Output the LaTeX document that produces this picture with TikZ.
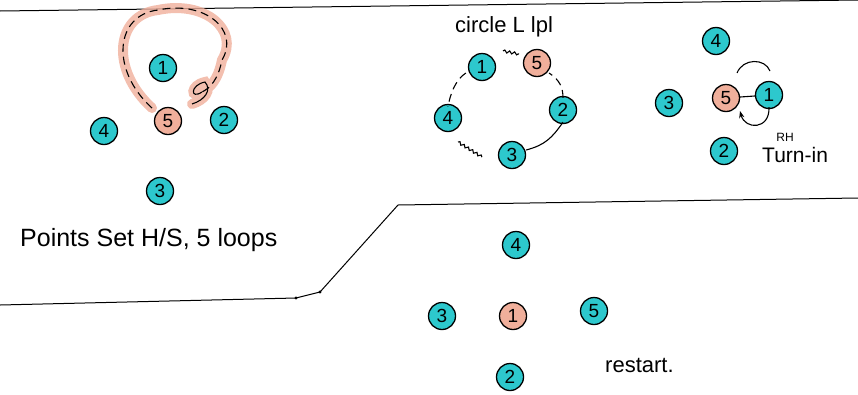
\documentclass[tikz,border=0pt]{standalone}
\usepackage{fontspec}
\setmainfont{Liberation Sans}
\usetikzlibrary{arrows.meta,decorations.pathmorphing}
\definecolor{tealc}{RGB}{45,200,205}
\definecolor{salm}{RGB}{240,175,155}
\begin{document}
\begin{tikzpicture}[x=1pt,y=-1pt,
  cn/.style={circle,draw=black,line width=1.3pt,fill=tealc,minimum size=27pt,inner sep=0pt,font=\fontsize{19}{19}\selectfont},
  sn/.style={cn,fill=salm},
  pen/.style={line width=1.1pt,black},
  dpen/.style={pen,dash pattern=on 8pt off 5pt},
  wavy/.style={pen,decorate,decoration={snake,amplitude=1.3pt,segment length=5pt}},
  hand/.style={inner sep=0pt,anchor=west}]
\useasboundingbox (0,0) rectangle (858,394);
% divider lines
\coordinate (tl) at (0,11); \coordinate (tr) at (858,0);
\draw[line width=1pt] (tl) -- (tr);
\coordinate (b0) at (0,305); \coordinate (b1) at (296,298); \coordinate (b2) at (320,292);
\coordinate (b3) at (398,205); \coordinate (b4) at (858,198);
\draw[line width=1pt] (b0) -- (b1) -- (b2) -- (b3) -- (b4);
\fill (b1) circle (1.6pt); \fill (b2) circle (1.6pt);

% group 1
\coordinate (la) at (152,108); \coordinate (lb) at (158,10); \coordinate (lc) at (222,60);
\coordinate (ld) at (202,92); \coordinate (le) at (192,104);
\draw[salm,line width=10pt,line cap=round,opacity=.8] (la) .. controls (110,70) and (115,15) .. (lb) .. controls (205,0) and (240,30) .. (lc) .. controls (218,80) and (210,88) .. (ld) .. controls (190,100) and (190,85) .. (205,82) .. controls (212,90) and (205,100) .. (le);
\draw[dpen] (la) .. controls (110,70) and (115,15) .. (lb) .. controls (205,0) and (240,30) .. (lc) .. controls (218,80) and (210,88) .. (ld);
\draw[pen] (ld) .. controls (190,100) and (190,85) .. (205,82) .. controls (212,90) and (205,100) .. (le);
\node[cn] (g1a) at (163,68) {1};
\node[sn] (g1e) at (168,121) {5};
\node[cn] (g1b) at (224,120) {2};
\node[cn] (g1d) at (104,131) {4};
\node[cn] (g1c) at (160,191) {3};
\node[hand,font=\fontsize{25}{25}\selectfont] (t1) at (20,240) {Points Set H/S, 5 loops};

% group 2
\node[hand,font=\fontsize{22}{22}\selectfont] (t2) at (455,27) {circle L lpl};
\node[cn] (g2a) at (482,67) {1};
\node[sn] (g2e) at (537,63) {5};
\node[cn] (g2b) at (563,110) {2};
\node[cn] (g2c) at (512,155) {3};
\node[cn] (g2d) at (448,118) {4};
\coordinate (w1) at (458,142); \coordinate (w2) at (482,157);
\coordinate (w3) at (503,51); \coordinate (w4) at (519,54);
\draw[dpen] (g2a.west) ++(-2,6) .. controls (455,80) and (450,95) .. ([yshift=-3pt]g2d.north);
\draw[wavy] (w1) -- (w2);
\draw[pen] (g2c.east) ++(0,-5) .. controls (545,145) and (552,138) .. ([yshift=2pt]g2b.south);
\draw[dpen] ([yshift=-2pt]g2b.north) .. controls (563,88) and (560,80) .. ([xshift=2pt]g2e.south east);
\draw[wavy] (w3) -- (w4);

% group 3
\node[cn] (g3d) at (716,41) {4};
\node[cn] (g3c) at (669,103) {3};
\node[sn] (g3e) at (726,98) {5};
\node[cn] (g3a) at (769,95) {1};
\node[cn] (g3b) at (724,151) {2};
\coordinate (a1) at (737,73); \coordinate (a2) at (770,71);
\draw[pen] (g3e) -- (g3a);
\draw[pen] (a1) .. controls (743,58) and (765,58) .. (a2);
\draw[pen,-{Stealth[length=7pt]}] ([yshift=2pt]g3a.south) .. controls (770,130) and (745,130) .. ([xshift=4pt,yshift=-3pt]g3e.south east);
\node[font=\fontsize{12}{12}\selectfont] (rh) at (785,137) {RH};
\node[hand,font=\fontsize{21}{21}\selectfont] (ti) at (762,155) {Turn-in};

% group 4
\node[cn] (g4d) at (516,245) {4};
\node[cn] (g4c) at (442,316) {3};
\node[sn] (g4a) at (513,316) {1};
\node[cn] (g4e) at (594,311) {5};
\node[cn] (g4b) at (510,377) {2};
\node[hand,font=\fontsize{22}{22}\selectfont] (t4) at (605,365) {restart.};
\end{tikzpicture}
\end{document}
